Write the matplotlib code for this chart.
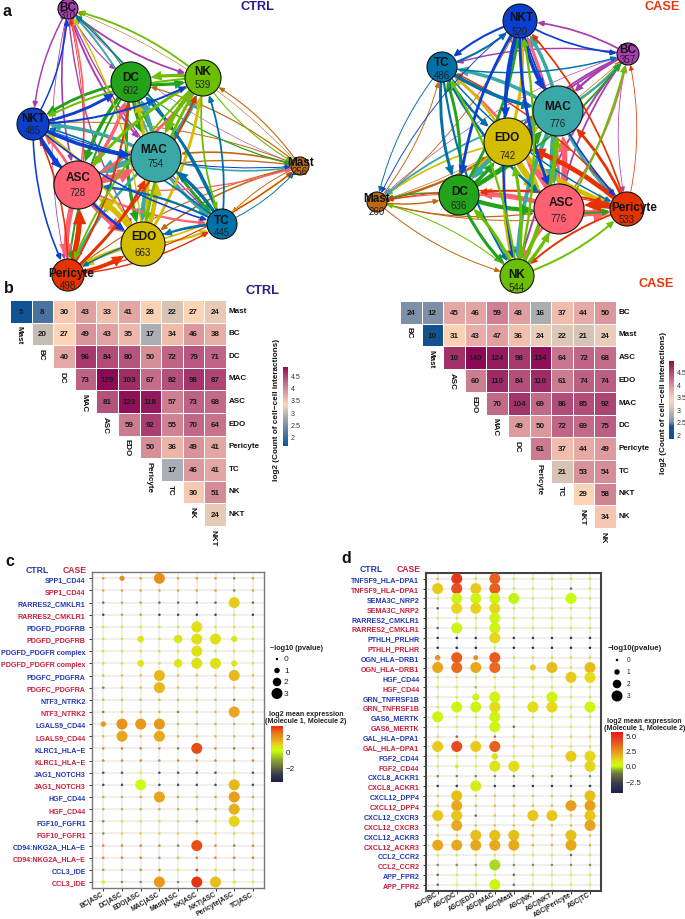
import numpy as np
import matplotlib
matplotlib.use("Agg")
import matplotlib.pyplot as plt
from matplotlib.colors import LinearSegmentedColormap, Normalize
from matplotlib.patches import Circle, FancyArrowPatch
from matplotlib.cm import ScalarMappable
from matplotlib.transforms import ScaledTranslation

plt.rcParams['font.family'] = ['Liberation Sans', 'DejaVu Sans']

W, H = 685, 920

# ---------- data ----------
ctrl_types = ["Mast","BC","DC","MAC","ASC","EDO","Pericyte","TC","NK","NKT"]
ctrl_counts = [
 [5,8,30,43,33,41,28,22,27,24],
 [None,20,27,49,43,35,17,34,46,38],
 [None,None,40,96,84,80,50,72,79,71],
 [None,None,None,73,129,103,67,82,98,87],
 [None,None,None,None,81,123,118,57,73,68],
 [None,None,None,None,None,59,92,55,70,64],
 [None,None,None,None,None,None,50,36,49,41],
 [None,None,None,None,None,None,None,17,46,41],
 [None,None,None,None,None,None,None,None,30,51],
 [None,None,None,None,None,None,None,None,None,24]]
case_types = ["BC","Mast","ASC","EDO","MAC","DC","Pericyte","TC","NKT","NK"]
case_counts = [
 [24,12,45,46,59,48,16,37,44,50],
 [None,10,31,43,47,36,24,22,21,24],
 [None,None,10,140,124,98,134,64,72,68],
 [None,None,None,60,110,84,110,61,74,74],
 [None,None,None,None,70,104,69,86,85,92],
 [None,None,None,None,None,49,50,72,69,75],
 [None,None,None,None,None,None,61,37,44,49],
 [None,None,None,None,None,None,None,21,53,54],
 [None,None,None,None,None,None,None,None,29,58],
 [None,None,None,None,None,None,None,None,None,34]]
# cells whose shade differs from their printed number
case_shade = {(0,0):12, (2,2):105}

ctrl_sizes = dict(BC=310,DC=602,NK=539,NKT=485,MAC=754,Mast=256,ASC=728,TC=445,EDO=663,Pericyte=498)
case_sizes = dict(NKT=520,BC=357,TC=486,MAC=776,EDO=742,Mast=260,DC=636,ASC=776,Pericyte=533,NK=544)

c_cols = ["BC|ASC","DC|ASC","EDO|ASC","MAC|ASC","Mast|ASC","NK|ASC","NKT|ASC","Pericyte|ASC","TC|ASC"]
c_rows = ["SPP1_CD44","SPP1_CD44","RARRES2_CMKLR1","RARRES2_CMKLR1","PDGFD_PDGFRB","PDGFD_PDGFRB",
 "PDGFD_PDGFR complex","PDGFD_PDGFR complex","PDGFC_PDGFRA","PDGFC_PDGFRA","NTF3_NTRK2","NTF3_NTRK2",
 "LGALS9_CD44","LGALS9_CD44","KLRC1_HLA−E","KLRC1_HLA−E","JAG1_NOTCH3","JAG1_NOTCH3","HGF_CD44","HGF_CD44",
 "FGF10_FGFR1","FGF10_FGFR1","CD94:NKG2A_HLA−E","CD94:NKG2A_HLA−E","CCL3_IDE","CCL3_IDE"]
c_base = [1.8,1.6,-2,-2.7,0.7,0.7,0.7,0.7,1.2,1.2,1.3,1.3,1.4,1.2,2.3,2.3,-2.5,-2.6,1.6,1.5,0.7,0.9,2.3,2.3,-0.9,-1.2]
# (row, column, -log10 p, expression)
c_hits = [(0,1,0.9,2.0),(0,3,3,2.0),(0,7,0,-1.5),(1,7,0,-1.5),(2,7,3,1.0),(3,7,0,0.3),
 (2,1,0,-0.8),(2,2,0,-0.8),(3,1,0,-0.8),(3,2,0,-0.8),
 (4,5,3,0.7),(5,2,1.4,0.6),(5,4,2,0.6),(5,5,3,0.7),(5,6,3,0.7),(5,7,1.2,0.6),
 (6,5,3,0.7),(7,2,1.4,0.6),(7,4,2,0.6),(7,5,3,0.7),(7,6,3,0.7),(7,7,1.2,0.6),
 (8,3,3,1.3),(8,7,3,1.3),(9,3,3,1.3),(9,0,0,-1.5),
 (10,7,0,-1.5),(11,0,0,-1.5),(11,4,0,-1.5),(11,7,3,1.5),
 (12,0,1,1.8),(12,1,3,1.9),(12,2,3,1.8),(12,3,3,1.8),(13,1,3,1.5),(13,3,3,1.5),
 (14,5,3,2.9),(14,4,0,-1.5),(14,7,0,-1.5),
 (16,2,0,0.2),(16,7,0,0.4),(17,2,3,0.2),(17,7,3,1.3),(18,3,3,1.6),(18,7,3,1.7),(19,7,3,1.4),
 (20,7,3,0.9),(20,0,0,-1.5),(20,5,0,-1.5),(21,0,0,-1.5),
 (22,5,3,2.9),(22,4,0,-1.5),(22,7,0,-1.5),(23,4,0,1.2),
 (24,3,0,2.2),(24,5,0,3.2),(24,6,0,0.7),(24,8,0,-0.3),(24,4,0,0.1),
 (25,3,3,1.8),(25,5,3,3.2),(25,6,3,1.2),(25,0,0.3,0.2),(25,7,0.3,0.2),(25,8,0,0.2)]

d_cols = ["ASC|BC","ASC|DC","ASC|EDO","ASC|MAC","ASC|Mast","ASC|NK","ASC|NKT","ASC|Pericyte","ASC|TC"]
d_rows = ["TNFSF9_HLA−DPA1","TNFSF9_HLA−DPA1","SEMA3C_NRP2","SEMA3C_NRP2","RARRES2_CMKLR1","RARRES2_CMKLR1",
 "PTHLH_PRLHR","PTHLH_PRLHR","OGN_HLA−DRB1","OGN_HLA−DRB1","HGF_CD44","HGF_CD44","GRN_TNFRSF1B","GRN_TNFRSF1B",
 "GAS6_MERTK","GAS6_MERTK","GAL_HLA−DPA1","GAL_HLA−DPA1","FGF2_CD44","FGF2_CD44","CXCL8_ACKR1","CXCL8_ACKR1",
 "CXCL12_DPP4","CXCL12_DPP4","CXCL12_CXCR3","CXCL12_CXCR3","CXCL12_ACKR3","CXCL12_ACKR3","CCL2_CCR2","CCL2_CCR2",
 "APP_FPR2","APP_FPR2"]
d_base = [0.6,0.6,0.3,0.5,0.3,0.3,-3.2,-3.8,1.0,0.7,0.5,0.4,0.2,0.2,0.3,0.2,1.0,0.4,0.2,0.2,-1.0,-3.2,1.4,1.6,1.3,1.5,1.3,1.8,0.3,-0.9,0.2,0.1]
d_hits = [(0,0,0,1.8),(0,1,3,4.8),(0,3,3,3.6),(1,0,3,1.3),(1,1,3,4.1),(1,2,3,1.3),(1,3,3,3.6),(1,7,0,-1.5),
 (2,1,3,0.3),(2,2,3,0.3),(2,3,3,0.3),(2,4,3,-0.1),(2,7,3,0.0),
 (3,1,3,1.0),(3,2,3,1.1),(3,3,3,1.0),(3,0,0,-2),(4,3,3,0.3),(5,1,3,0.3),(5,3,3,0.3),(5,0,0,-1.5),
 (6,3,3,1.0),(7,3,0,0.3),(8,0,1,2.5),(8,1,3,3.7),(8,2,0.8,2.5),(8,3,3,3.8),
 (9,0,3,2.0),(9,1,3,3.4),(9,2,3,2.0),(9,3,3,3.4),(9,5,1.2,1.3),(9,6,3,1.6),(9,8,3,1.6),
 (10,7,3,1.3),(10,8,3,0.9),(11,2,0,-0.5),(12,2,1.5,0.3),(12,3,3,0.3),(12,6,3,0.3),
 (13,1,3,0.3),(13,2,3,0.3),(13,3,3,0.9),(13,5,3,0.9),(13,6,3,1.0),(13,8,3,0.3),
 (14,0,3,0.3),(14,3,3,0.3),(15,3,3,0.3),(15,4,0,-1.5),
 (16,1,0,4.5),(16,3,0,4.0),(17,0,3,1.3),(17,1,3,4.2),(17,2,3,1.3),(17,3,3,3.6),
 (18,3,1.3,0.8),(18,7,3,1.3),(18,8,3,1.0),(19,1,0.5,0.3),(19,3,3,0.7),(19,4,3,0.9),(19,8,3,1.1),
 (21,2,3,0.5),(22,1,3,1.5),(22,8,3,1.5),(23,1,3,2.0),(23,7,3,2.2),(23,8,3,2.2),
 (24,0,3,1.4),(24,1,3,1.4),(24,5,3,1.4),(24,6,3,1.4),(24,8,3,1.4),(24,2,0,-1.5),
 (25,1,3,2.0),(25,8,3,2.1),(26,2,3,1.5),(26,3,3,1.5),(26,4,3,1.5),(26,7,3,1.5),
 (27,0,3,2.0),(27,1,3,2.0),(27,2,3,2.0),(27,3,3,2.0),(27,4,3,2.0),(27,7,3,2.0),
 (28,7,0,-1.5),(29,3,3,-0.3),(30,0,0,-1.5),(30,4,0,-1.5),(31,3,3,0.4),(31,0,0,-1.5),(31,4,0,-1.5)]
p_levels = [0,1,2,3]

# ---------- style / layout ----------
node_color = dict(BC="#a83db0",DC="#22a31a",NK="#6bbf00",NKT="#0a3fd0",MAC="#3aa8a6",Mast="#c06a10",
                  ASC="#ff6072",TC="#0070a8",EDO="#d4bc00",Pericyte="#e63200")
# x, y, radius, name x, name y, number y
ctrl_layout = dict(BC=(68,10,10,68,8,16),DC=(131,83,20,131,78,91),NK=(203,79,18,203,72,85),NKT=(33,125,16,33,119,131),
                   MAC=(156,158,25,154,150,164),Mast=(300,167,9,301,163,172),ASC=(78,186,24,78,178,193),
                   TC=(222,225,15,222,221,233),EDO=(143,245,22,144,237,253),Pericyte=(68,276,16,71,274,286))
case_layout = dict(NKT=(520,22,17,521,18,32),BC=(628,55,11,628,50,60),TC=(442,68,15,442,63,76),MAC=(558,112,25,558,107,124),
                   EDO=(508,143,24,507,138,156),Mast=(377,203,10,377,199,212),DC=(459,196,20,460,192,206),
                   ASC=(559,210,25,561,203,219),Pericyte=(627,210,17,634,208,220),NK=(517,277,17,517,275,288))
BLUE = "#2238b4"; RED = "#c81e3c"; NAVY = "#2a1a8a"; ORANGE = "#e23a10"

fig = plt.figure(figsize=(W/100, H/100), dpi=100)
canvas = fig.add_axes([0,0,1,1], zorder=0)
canvas.set_xlim(0,W); canvas.set_ylim(H,0); canvas.axis("off")

def px_axes(x0,y0,x1,y1,**kw):
    return fig.add_axes([x0/W,1-y1/H,(x1-x0)/W,(y1-y0)/H],**kw)

def network(types,counts,layout,sizes):
    for i,s in enumerate(types):
        for j,t in enumerate(types):
            if i==j: continue
            c = counts[min(i,j)][max(i,j)]
            x0,y0,r0 = layout[s][:3]; x1,y1,r1 = layout[t][:3]
            lw = (0.4+6.0*(c/140)**1.3)*0.72
            canvas.add_patch(FancyArrowPatch((x0,y0),(x1,y1),connectionstyle="arc3,rad=0.12",
                arrowstyle="-|>,head_length=0.5,head_width=0.22",mutation_scale=6+lw*0.8,color=node_color[s],lw=lw,
                shrinkA=r0*0.72,shrinkB=r1*0.72,zorder=2,joinstyle="miter"))
    for n,(x,y,r,nx,ny,vy) in layout.items():
        canvas.add_patch(Circle((x,y),r,fc=node_color[n],ec="#111",lw=0.8,zorder=3))
        canvas.text(nx,ny,n,ha="center",va="center",fontsize=8.5,fontweight="bold",color="#111",zorder=4)
        canvas.text(x,vy,str(sizes[n]),ha="center",va="center",fontsize=7,color="#222",zorder=4)

network(ctrl_types,ctrl_counts,ctrl_layout,ctrl_sizes)
network(case_types,case_counts,case_layout,case_sizes)

def heat(types,counts,box,cbox,nodes,lim,shade,cbar_x):
    ax = px_axes(*box); ax.set_xlim(0,10); ax.set_ylim(10,0); ax.axis("off")
    vals = np.array([[np.nan if v is None else np.log(v) for v in r] for r in counts],float)
    for (a,b),v in shade.items(): vals[a,b]=np.log(v)
    cmap = LinearSegmentedColormap.from_list("h",[((v-lim[0])/(lim[1]-lim[0]),c) for v,c in nodes])
    norm = Normalize(*lim)
    ax.pcolormesh(np.arange(11),np.arange(11),np.ma.masked_invalid(vals),cmap=cmap,norm=norm,edgecolors="white",linewidth=0.7)
    for i,r in enumerate(counts):
        for j,v in enumerate(r):
            if v is not None:
                ax.text(j+.5,i+.5,str(v),ha="center",va="center",fontsize=5.8,fontweight="bold",color="#1a1a1a")
        ax.text(10.12,i+.45,types[i],ha="left",va="center",fontsize=5.8,fontweight="bold",color="#111",clip_on=False)
        ax.text(i+.42,i+1.12,types[i],ha="center",va="top",rotation=270,fontsize=5.8,fontweight="bold",color="#111",clip_on=False)
    cax = px_axes(*cbox)
    cb = fig.colorbar(ScalarMappable(norm,cmap),cax=cax,ticks=[2,2.5,3,3.5,4,4.5])
    cb.ax.set_yticklabels(["2","2.5","3","3.5","4","4.5"])
    cb.outline.set_visible(False)
    cax.tick_params(length=0,labelsize=5,pad=2,labelcolor="#333")
    canvas.text(cbar_x,(cbox[1]+cbox[3])/2+2,"log2 (Count of cell−cell interactions)",rotation=90,ha="center",va="center",
                fontsize=5.9,fontweight="bold",color="#111")

heat(ctrl_types,ctrl_counts,(10,301,226,527),(283,368,288,447),
     [(1.6,"#0f5596"),(2.08,"#4a72a0"),(2.9,"#b4b4b4"),(3.3,"#fdd5b5"),(3.7,"#e4a8a4"),(4.3,"#bd6284"),(4.86,"#8c0a55")],
     (1.6,4.86),{},277)
heat(case_types,case_counts,(400,302,616,529),(669,362,674,440),
     [(1.8,"#0f5596"),(2.3,"#14528f"),(2.48,"#8090a8"),(2.8,"#b0b0b0"),(3.15,"#e6ccb8"),(3.4,"#fdd5b5"),(3.8,"#e4a8a4"),(4.3,"#bd6284"),(4.94,"#8c0a55")],
     (1.8,4.94),case_shade,664)

def p_diam(p):
    return np.interp(p,[0,1,2,3],[2.5,5.5,8.5,11])

def dots(rows,cols,base,hits,box,y0,dy,x0,dx,cmap,norm,frame,flw,xshift,xpad):
    ax = px_axes(*box)
    ax.set_xlim(box[0],box[2]); ax.set_ylim(box[3],box[1])
    xs = x0+dx*np.arange(len(cols)); ys = y0+dy*np.arange(len(rows))
    P = np.zeros((len(rows),len(cols))); E = np.tile(np.array(base)[:,None],(1,len(cols)))
    for r,c,p,e in hits: P[r,c]=p; E[r,c]=e
    X,Y = np.meshgrid(xs,ys)
    ax.hlines(ys,box[0],box[2],color="#ececec",lw=1.2,zorder=1)
    ax.vlines(xs,box[1],box[3],color="#ececec",lw=1.2,zorder=1)
    ax.scatter(X.ravel(),Y.ravel(),s=(p_diam(P.ravel())*0.72)**2,c=E.ravel(),cmap=cmap,norm=norm,linewidths=0,zorder=3)
    ax.set_xticks(xs); ax.set_xticklabels(cols,rotation=30,ha="right",va="center",rotation_mode="anchor",fontsize=4.9,fontweight="bold",color="#222")
    off = ScaledTranslation(xshift/100,0,fig.dpi_scale_trans)
    for t in ax.get_xticklabels():
        t.set_transform(t.get_transform()+off)
    ax.set_yticks(ys); ax.set_yticklabels(rows,fontsize=5.1,fontweight="bold")
    for i,t in enumerate(ax.get_yticklabels()):
        t.set_color(BLUE if i%2==0 else RED)
    ax.tick_params(axis="y",length=2.5,width=0.7,pad=2,color="#333")
    ax.tick_params(axis="x",length=2,width=0.7,pad=xpad,color="#333")
    for s in ax.spines.values():
        s.set_color(frame); s.set_linewidth(flw)

cm_c = LinearSegmentedColormap.from_list("c",[(0,"#1a1f4f"),(0.13,"#35384a"),(0.27,"#6a7040"),(0.40,"#8fa830"),(0.56,"#c8ff10"),
        (0.66,"#e6d81a"),(0.75,"#e8a81c"),(0.86,"#e8801a"),(1,"#e62c10")])
nc = Normalize(-3.9,3.3)
cm_d = LinearSegmentedColormap.from_list("d",[(0,"#1a1f4f"),(0.16,"#3a3d48"),(0.30,"#6a7040"),(0.36,"#80a030"),(0.44,"#c8ff10"),
        (0.54,"#e6d81a"),(0.64,"#e8a81c"),(0.80,"#e86020"),(1,"#e81818")])
nd = Normalize(-4.4,5.6)
dots(c_rows,c_cols,c_base,c_hits,(92,573,264,889),579.3,12.15,103.3,18.7,cm_c,nc,"#777777",1.0,4,1.6)
dots(d_rows,d_cols,d_base,d_hits,(425.7,574,601.3,891.7),579.7,9.87,437.7,19.04,cm_d,nd,"#444444",1.5,5,0)

def vbar(box,cmap,norm,ticks,labels):
    cax = px_axes(*box)
    cb = fig.colorbar(ScalarMappable(norm,cmap),cax=cax,ticks=ticks)
    cb.ax.set_yticklabels(labels); cb.outline.set_visible(False)
    cax.tick_params(length=0,labelsize=5.8,pad=2,labelcolor="#222")
vbar((271,727,283,783),cm_c,nc,[-2,0,2],["−2","0","2"])
vbar((610.7,733,622.7,793.7),cm_d,nd,[-2.5,0,2.5,5],["−2.5","0.0","2.5","5.0"])

# size legends
def size_legend(x,ys,tx,ts):
    canvas.scatter([x]*4,ys,s=(p_diam(np.array(p_levels))*0.72)**2,c="black",linewidths=0,zorder=5)
    for y,p in zip(ys,p_levels):
        canvas.text(tx,y,str(p),ha="left",va="center",fontsize=ts,color="#222")
size_legend(277,[660,671.5,683,694.5],284,6)
size_legend(617,[661,673,685,697],627,4.8)
canvas.text(297,649,"−log10 (pvalue)",ha="center",va="center",fontsize=5.2,fontweight="bold",color="#222")
canvas.text(635,649,"−log10(pvalue)",ha="center",va="center",fontsize=5.6,fontweight="bold",color="#222")
canvas.text(306,718,"log2 mean expression\n(Molecule 1, Molecule 2)",ha="center",va="center",fontsize=5.1,fontweight="bold",color="#222",linespacing=1.0)
canvas.text(644.5,725,"log2 mean expression\n(Molecule 1, Molecule 2)",ha="center",va="center",fontsize=5.1,fontweight="bold",color="#222",linespacing=1.0)

# titles
for x,y,s in [(7,11,"a"),(9,289,"b"),(10,562,"c"),(346,559,"d")]:
    canvas.text(x,y,s,ha="center",va="center",fontsize=11.5,fontweight="bold",color="#111")
for x,y,s,col in [(257,7,"CTRL",NAVY),(262,291,"CTRL",NAVY),(662,7,"CASE",ORANGE),(656,284,"CASE",ORANGE)]:
    canvas.text(x,y,s,ha="center",va="center",fontsize=9.2,fontweight="bold",color=col)
for x,y,s,col in [(37,571,"CTRL",BLUE),(75,571,"CASE",RED),(371,570,"CTRL",BLUE),(409,570,"CASE",RED)]:
    canvas.text(x,y,s,ha="center",va="center",fontsize=6.2,fontweight="bold",color=col)

fig.savefig("out.png",dpi=100)
